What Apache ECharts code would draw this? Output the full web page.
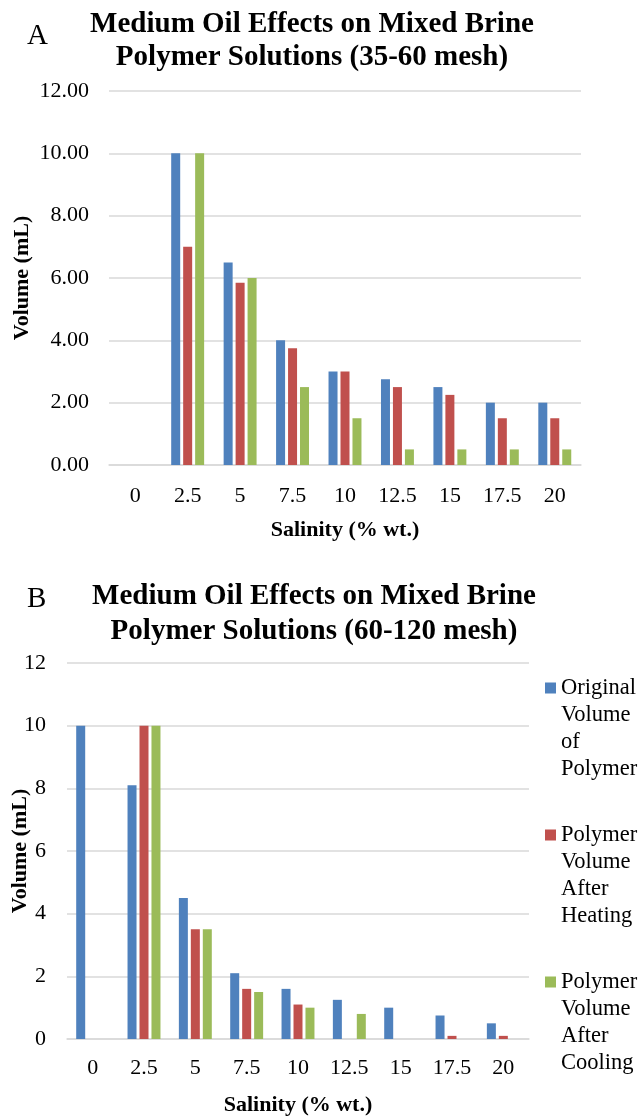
<!DOCTYPE html>
<html>
<head>
<meta charset="utf-8">
<script src="https://cdn.jsdelivr.net/npm/echarts@6/dist/echarts.min.js"></script>
<style>
html,body{margin:0;padding:0;background:#fff;}
#chart{width:642px;height:1118px;}
</style>
</head>
<body>
<div id="chart"></div>
<script>
const categories = ['0', '2.5', '5', '7.5', '10', '12.5', '15', '17.5', '20'];
const seriesNames = ['Original Volume of Polymer', 'Polymer Volume After Heating', 'Polymer Volume After Cooling'];
const legendLabels = ['Original\nVolume\nof\nPolymer', 'Polymer\nVolume\nAfter\nHeating', 'Polymer\nVolume\nAfter\nCooling'];
const colors = ['#4F81BD', '#C0504D', '#9BBB59'];

// Chart A (35-60 mesh)
const aOriginal = [0, 10, 6.5, 4, 3, 2.75, 2.5, 2, 2];
const aHeating  = [0, 7, 5.85, 3.75, 3, 2.5, 2.25, 1.5, 1.5];
const aCooling  = [0, 10, 6, 2.5, 1.5, 0.5, 0.5, 0.5, 0.5];

// Chart B (60-120 mesh)
const bOriginal = [10, 8.1, 4.5, 2.1, 1.6, 1.25, 1.0, 0.75, 0.5];
const bHeating  = [0, 10, 3.5, 1.6, 1.1, 0, 0, 0.1, 0.1];
const bCooling  = [0, 10, 3.5, 1.5, 1.0, 0.8, 0, 0, 0];

const yTicksA = { min: 0, max: 12, interval: 2 };
const yTicksB = { min: 0, max: 12, interval: 2 };

const titleA = 'Medium Oil Effects on Mixed Brine\nPolymer Solutions (35-60 mesh)';
const titleB = 'Medium Oil Effects on Mixed Brine\nPolymer Solutions (60-120 mesh)';
const xName = 'Salinity (% wt.)';
const yName = 'Volume (mL)';

const FONT = '"Liberation Serif", "Times New Roman", serif';
const gridColor = '#D9D9D9';

function xAxis(gridIndex, margin, gap) {
  return {
    type: 'category', gridIndex: gridIndex, data: categories,
    axisLine: { show: true, lineStyle: { color: gridColor, width: 1.5 } },
    axisTick: { show: false },
    axisLabel: { color: '#000', fontFamily: FONT, fontSize: 22, margin: margin, interval: 0 },
    name: xName, nameLocation: 'middle', nameGap: gap, nameMoveOverlap: false,
    nameTextStyle: { color: '#000', fontFamily: FONT, fontSize: 22, fontWeight: 'bold' }
  };
}
function yAxis(gridIndex, ticks, fmt, margin, gap) {
  return {
    type: 'value', gridIndex: gridIndex, min: ticks.min, max: ticks.max, interval: ticks.interval,
    axisLine: { show: false }, axisTick: { show: false },
    splitLine: { show: true, lineStyle: { color: gridColor, width: 1.5 } },
    axisLabel: { color: '#000', fontFamily: FONT, fontSize: 22, margin: margin, formatter: fmt },
    name: yName, nameLocation: 'middle', nameGap: gap, nameRotate: 90, nameMoveOverlap: false,
    nameTextStyle: { color: '#000', fontFamily: FONT, fontSize: 22, fontWeight: 'bold' }
  };
}
function bar(name, data, idx, color) {
  return {
    name: name, type: 'bar', xAxisIndex: idx, yAxisIndex: idx, data: data,
    barWidth: 9, barGap: '33%',
    itemStyle: { color: color },
    emphasis: { disabled: true }, animation: false
  };
}

const chart = echarts.init(document.getElementById('chart'), null, { renderer: 'canvas' });
chart.setOption({
  backgroundColor: '#fff',
  animation: false,
  title: [
    { text: 'A', left: 22, top: 17, textStyle: { fontFamily: FONT, fontSize: 29, fontWeight: 'normal', color: '#000' } },
    { text: titleA, left: 307, top: 3, textAlign: 'center',
      textStyle: { fontFamily: FONT, fontSize: 29, fontWeight: 'bold', color: '#000', lineHeight: 33 } },
    { text: 'B', left: 22, top: 580, textStyle: { fontFamily: FONT, fontSize: 29, fontWeight: 'normal', color: '#000' } },
    { text: titleB, left: 309, top: 574, textAlign: 'center',
      textStyle: { fontFamily: FONT, fontSize: 29, fontWeight: 'bold', color: '#000', lineHeight: 35 } }
  ],
  legend: {
    orient: 'vertical', left: 545, top: 675, padding: 0,
    data: seriesNames,
    itemWidth: 11, itemHeight: 108, itemGap: 39, itemTextGap: 4,
    icon: 'path://M0,7.5h11v11h-11Z M0,0h0.01v0.01h-0.01Z M0,108h0.01v0.01h-0.01Z',
    itemStyle: { borderWidth: 0 },
    selectedMode: false,
    formatter: function (n) { return legendLabels[seriesNames.indexOf(n)]; },
    textStyle: { fontFamily: FONT, fontSize: 22.5, lineHeight: 27, color: '#000' }
  },
  grid: [
    { left: 109, top: 91, width: 472, height: 374, containLabel: false, outerBoundsMode: 'none' },
    { left: 67, top: 663, width: 462, height: 376, containLabel: false, outerBoundsMode: 'none' }
  ],
  xAxis: [xAxis(0, 20, 54), xAxis(1, 18, 55)],
  yAxis: [
    yAxis(0, yTicksA, function (v) { return v.toFixed(2); }, 20, 76),
    yAxis(1, yTicksB, function (v) { return String(v); }, 21, 36)
  ],
  series: [
    bar(seriesNames[0], aOriginal, 0, colors[0]),
    bar(seriesNames[1], aHeating, 0, colors[1]),
    bar(seriesNames[2], aCooling, 0, colors[2]),
    bar(seriesNames[0], bOriginal, 1, colors[0]),
    bar(seriesNames[1], bHeating, 1, colors[1]),
    bar(seriesNames[2], bCooling, 1, colors[2])
  ]
});
</script>
</body>
</html>
